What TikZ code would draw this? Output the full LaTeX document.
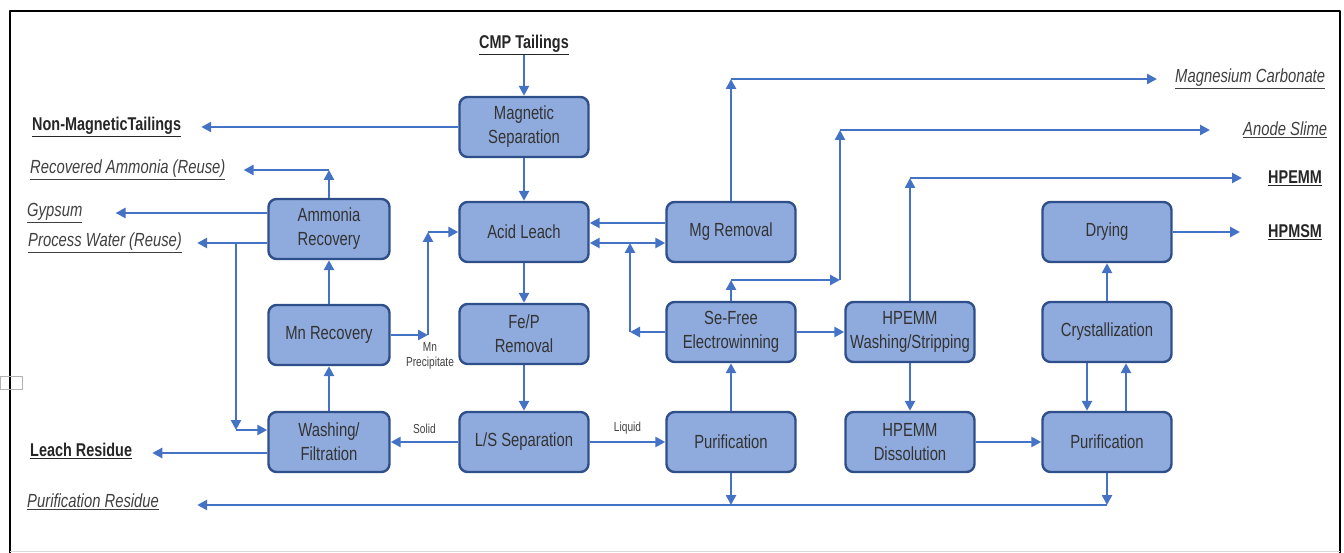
\documentclass[tikz,border=0pt]{standalone}
\usepackage{fontspec}
\setmainfont{Liberation Sans}[FakeStretch=0.78]
\usetikzlibrary{arrows.meta}
\definecolor{boxfill}{HTML}{8FAADC}
\definecolor{boxline}{HTML}{2F4F8A}
\definecolor{flowblue}{HTML}{4472C4}
\definecolor{txtgrey}{HTML}{404040}
\begin{document}
\begin{tikzpicture}[x=1pt, y=1pt, line join=round,
	proc/.style={draw=boxline, fill=boxfill, line width=2.4pt, rounded corners=8pt, minimum width=129pt, minimum height=60pt, align=center, font=\fontsize{19}{24}\selectfont, text=black!80},
	narrow/.style={proc, minimum width=121pt},
	flow/.style={draw=flowblue, line width=2.6pt, -{Triangle[length=10pt,width=10pt]}},
	prod/.style={font=\fontsize{18.5}{20}\selectfont\bfseries, text=black!85, inner sep=0pt},
	side/.style={font=\fontsize{19}{20}\selectfont\itshape, text=txtgrey, inner sep=0pt},
	tag/.style={font=\fontsize{13}{15}\selectfont, text=txtgrey, align=center, inner sep=0pt}]
	\useasboundingbox (0,0) rectangle (1344,-553);
	\draw[line width=2.5pt] (10,-553)--(10,-11)--(1340,-11)--(1340,-553);
	\draw[black!15, line width=1pt] (10,-551)--(1340,-551);
	\draw[black!30, line width=1pt] (0,-376) rectangle (22,-389);
	% process boxes
	\node[proc] (magsep) at (524,-127) {Magnetic\\Separation};
	\node[proc] (acid) at (524,-232) {Acid Leach};
	\node[proc] (fep) at (524,-334) {Fe/P\\Removal};
	\node[proc] (ls) at (524,-442) {L/S Separation};
	\node[proc] (mgrem) at (731,-232) {Mg Removal};
	\node[proc] (sefree) at (731,-332) {Se-Free\\Electrowinning};
	\node[proc] (purA) at (731,-442) {Purification};
	\node[proc] (hwash) at (910,-332) {HPEMM\\Washing/Stripping};
	\node[proc] (hdiss) at (910,-442) {HPEMM\\Dissolution};
	\node[proc] (dry) at (1107,-232) {Drying};
	\node[proc] (cryst) at (1107,-332) {Crystallization};
	\node[proc] (purB) at (1107,-442) {Purification};
	\node[narrow] (ammrec) at (329,-229) {Ammonia\\Recovery};
	\node[narrow] (mnrec) at (329,-335) {Mn Recovery};
	\node[narrow] (wash) at (329,-442) {Washing/\\Filtration};
	% inputs and outputs
	\node[prod] (cmp) at (524,-45) {\underline{CMP Tailings}};
	\node[prod, anchor=west] (nonmag) at (32,-127) {\underline{Non-MagneticTailings}};
	\node[side, anchor=west] (recamm) at (30,-170) {\underline{Recovered Ammonia (Reuse)}};
	\node[side, anchor=west] (gyp) at (27,-213) {\underline{Gypsum}};
	\node[side, anchor=west] (pwater) at (28,-243) {\underline{Process Water (Reuse)}};
	\node[prod, anchor=west] (leach) at (30,-451) {\underline{Leach Residue}};
	\node[side, anchor=west] (purres) at (27,-502) {\underline{Purification Residue}};
	\node[side, anchor=west] (mgcarb) at (1175,-79) {\underline{Magnesium Carbonate}};
	\node[side, anchor=west] (anode) at (1243,-130) {\underline{Anode Slime}};
	\node[prod, anchor=west] (hpemm) at (1268,-178) {\underline{HPEMM}};
	\node[prod, anchor=west] (hpmsm) at (1268,-232) {\underline{HPMSM}};
	\node[tag] (mnppt) at (430,-356) {Mn\\Precipitate};
	% corner points
	\coordinate (ra) at (329,-170);
	\coordinate (pw1) at (236,-243);
	\coordinate (pw2) at (236,-430);
	\coordinate (mp1) at (428,-335);
	\coordinate (mp2) at (428,-232);
	\coordinate (sf1) at (630,-332);
	\coordinate (sf2) at (630,-243);
	\coordinate (mc) at (731,-79);
	\coordinate (as1) at (731,-280);
	\coordinate (as2) at (840,-280);
	\coordinate (as3) at (840,-130);
	\coordinate (hp) at (910,-178);
	\coordinate (pr1) at (731,-505);
	\coordinate (pr2) at (1107,-505);
	% main flow
	\draw[flow] (cmp) -- (magsep);
	\draw[flow] (magsep.west) -- ([xshift=20pt]nonmag.east);
	\draw[flow] (magsep) -- (acid);
	\draw[flow] (acid) -- (fep);
	\draw[flow] (fep) -- (ls);
	\draw[flow] (ls) -- node[tag, above=7pt]{Solid} (wash);
	\draw[flow] (ls) -- node[tag, above=7pt]{Liquid} (purA);
	\draw[flow] (wash) -- (mnrec);
	\draw[flow] (mnrec) -- (ammrec);
	\draw[flow] ([yshift=-11pt]wash.west) -- ([xshift=20pt]leach.east |- 0,-453);
	\draw[flow] (ammrec) -- (ra);
	\draw[flow] (ra) -- ([xshift=18pt]recamm.east);
	\draw[flow] ([yshift=16pt]ammrec.west) -- ([xshift=33pt]gyp.east);
	\draw[flow] ([yshift=-14pt]ammrec.west) -- ([xshift=15pt]pwater.east);
	\draw[flow] (pw1) -- (pw2);
	\draw[flow] (pw2) -- (wash.west |- pw2);
	\draw[flow] (mnrec.east) -- (mp1);
	\draw[flow] (mp1) -- (mp2);
	\draw[flow] (mp2) -- (acid.west);
	\draw[flow] ([yshift=9pt]mgrem.west) -- ([yshift=9pt]acid.east);
	\draw[flow] (sefree.west) -- (sf1);
	\draw[flow] (sf1) -- (sf2);
	\draw[flow] (sf2) -- (acid.east |- sf2);
	\draw[flow] (sf2) -- (mgrem.west |- sf2);
	\draw[flow] (mgrem) -- (mc);
	\draw[flow] (mc) -- ([xshift=-18pt]mgcarb.west);
	\draw[flow] (purA) -- (sefree);
	\draw[flow] (sefree) -- (as1);
	\draw[flow] (as1) -- (as2);
	\draw[flow] (as2) -- (as3);
	\draw[flow] (as3) -- ([xshift=-33pt]anode.west);
	\draw[flow] (sefree) -- (hwash);
	\draw[flow] (hwash) -- (hp);
	\draw[flow] (hp) -- ([xshift=-26pt]hpemm.west);
	\draw[flow] (hwash) -- (hdiss);
	\draw[flow] (hdiss) -- (purB);
	\draw[flow] ([xshift=-20pt]cryst.south) -- ([xshift=-20pt]purB.north);
	\draw[flow] ([xshift=19pt]purB.north) -- ([xshift=19pt]cryst.south);
	\draw[flow] (cryst) -- (dry);
	\draw[flow] (dry) -- ([xshift=-28pt]hpmsm.west);
	\draw[flow] (purA) -- (pr1);
	\draw[flow] (purB) -- (pr2);
	\draw[flow] (pr2) -- ([xshift=38pt]purres.east |- pr2);
\end{tikzpicture}
\end{document}
